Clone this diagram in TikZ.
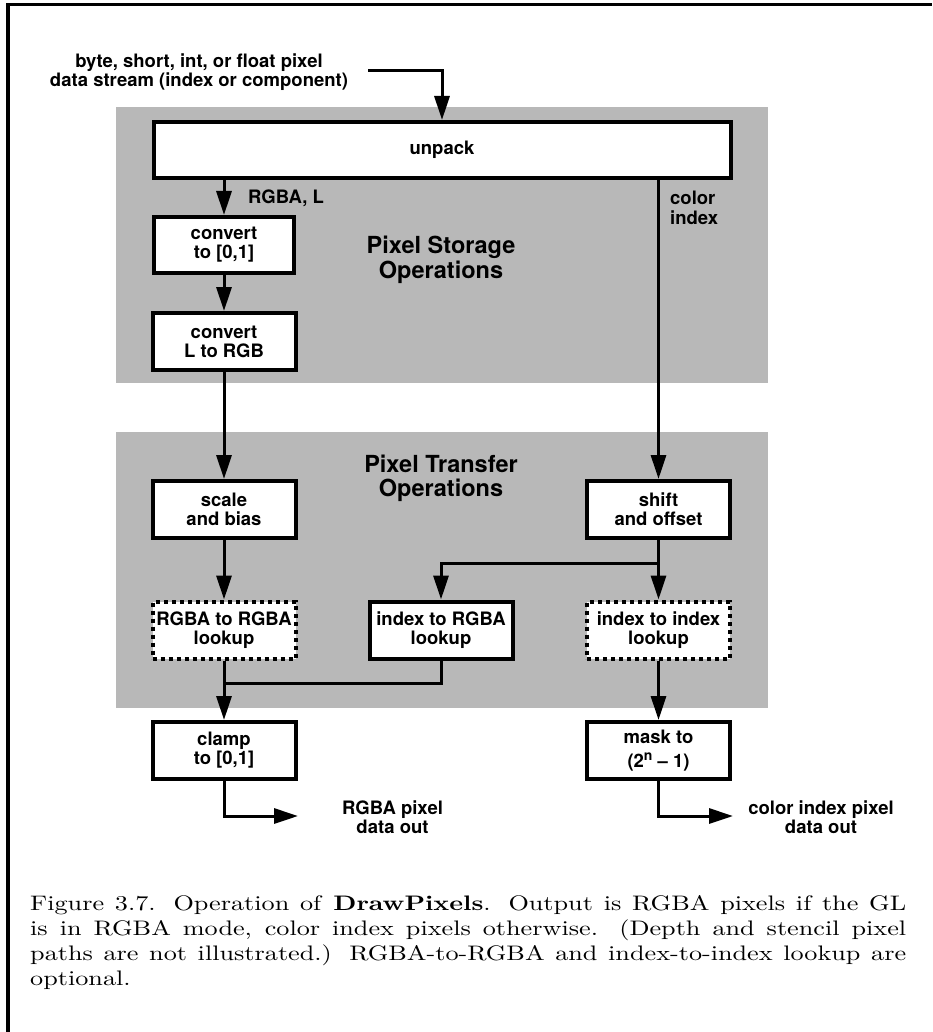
\documentclass[tikz,border=0pt]{standalone}
\usepackage{fontspec}
\usepackage{graphicx}
\newfontfamily\hv{TeX Gyre Heros}
\usetikzlibrary{arrows.meta}
\begin{document}
\begin{tikzpicture}[x=1pt,y=-1pt,
  lbl/.style={align=center, inner sep=0pt, font=\hv\bfseries\fontsize{18.5}{19}\selectfont},
  box/.style={lbl, draw, line width=4pt, fill=white, minimum width=143pt, minimum height=57pt},
  dbox/.style={box, dash pattern=on 4pt off 4pt},
  big/.style={align=center, inner sep=0pt, font=\hv\bfseries\fontsize{23.5}{24.5}\selectfont},
  conn/.style={line width=3pt, -{Triangle[length=24pt,width=15pt]}},
  wire/.style={line width=3pt},
  shade/.style={fill=black!28}
]
\useasboundingbox (0,0) rectangle (932,1032);
% frame
\draw[line width=3.5pt] (8,1032) -- (8,4.5) -- (932,4.5);
% shaded regions
\fill[shade] (116,107) rectangle (768,383);
\fill[shade] (116,432) rectangle (768,708);
% labels
\node[lbl] (inlab) at (199,72.5) {byte, short, int, or float pixel\\data stream (index or component)};
\node[big] (pso) at (441,260) {Pixel Storage\\Operations};
\node[big] (pto) at (441,478.5) {Pixel Transfer\\Operations};
\node[lbl, anchor=west] (rgbal) at (248,198) {RGBA, L};
\node[lbl, anchor=west, align=left, font=\hv\bfseries\fontsize{18.5}{20}\selectfont] (cil) at (670,208) {color\\index};
% boxes
\node[box, minimum width=577pt, minimum height=56pt] (unpack) at (442,150) {unpack};
\node[box, minimum width=140pt, minimum height=56pt] (conv) at (224,245) {convert\\to [0,1]};
\node[box] (convl) at (224,341.5) {convert\\L to RGB};
\node[box] (scale) at (224,509.5) {scale\\and bias};
\node[dbox] (rlook) at (224,630) {RGBA to RGBA\\lookup};
\node[box] (clamp) at (224,750.5) {clamp\\to [0,1]};
\node[box] (shift) at (658.5,509.5) {shift\\and offset};
\node[box] (irgba) at (441,630) {index to RGBA\\lookup};
\node[dbox] (ilook) at (658.5,630) {index to index\\lookup};
\node[box] (mask) at (658.5,750.5) {mask to\\[5pt](2\raisebox{7pt}{\fontsize{14}{14}\selectfont n} \textendash{} 1)};
% outputs
\node[lbl] (outr) at (392.5,817.5) {RGBA pixel\\data out};
\node[lbl] (outc) at (821,817.5) {color index pixel\\data out};
% connectors
\coordinate (in0) at (368,71);
\draw[conn] (in0) -| (unpack.north);
\draw[conn] (unpack.south -| conv.north) -- (conv.north);
\draw[conn] (conv.south) -- (convl.north);
\draw[conn] (convl.south) -- (scale.north);
\draw[conn] (scale.south) -- (rlook.north);
\draw[conn] (rlook.south) -- (clamp.north);
\draw[conn] (unpack.south -| shift.north) -- (shift.north);
\draw[conn] (shift.south) -- (ilook.north);
\coordinate (br) at (658.5,563);
\draw[conn] (br) -| (irgba.north);
\coordinate (jn) at (224,683);
\draw[wire] (irgba.south) |- (jn);
\draw[conn] (ilook.south) -- (mask.north);
\coordinate (o1) at (298,816);
\coordinate (o2) at (733,816);
\draw[conn] (clamp.south) |- (o1);
\draw[conn] (mask.south) |- (o2);
% caption
\node[anchor=base west, inner sep=0pt] (cap) at (30,910) {\scalebox{2.62}[2.1]{\parbox[t]{334.35pt}{\fontsize{10}{12}\selectfont\hfuzz=20pt Figure 3.7. Operation of \textbf{DrawPixels}. Output is RGBA pixels if the GL\linebreak is in RGBA mode, color index pixels otherwise. (Depth and stencil pixel\linebreak paths are not illustrated.) RGBA-to-RGBA and index-to-index lookup are\linebreak optional.}}};
\end{tikzpicture}
\end{document}
